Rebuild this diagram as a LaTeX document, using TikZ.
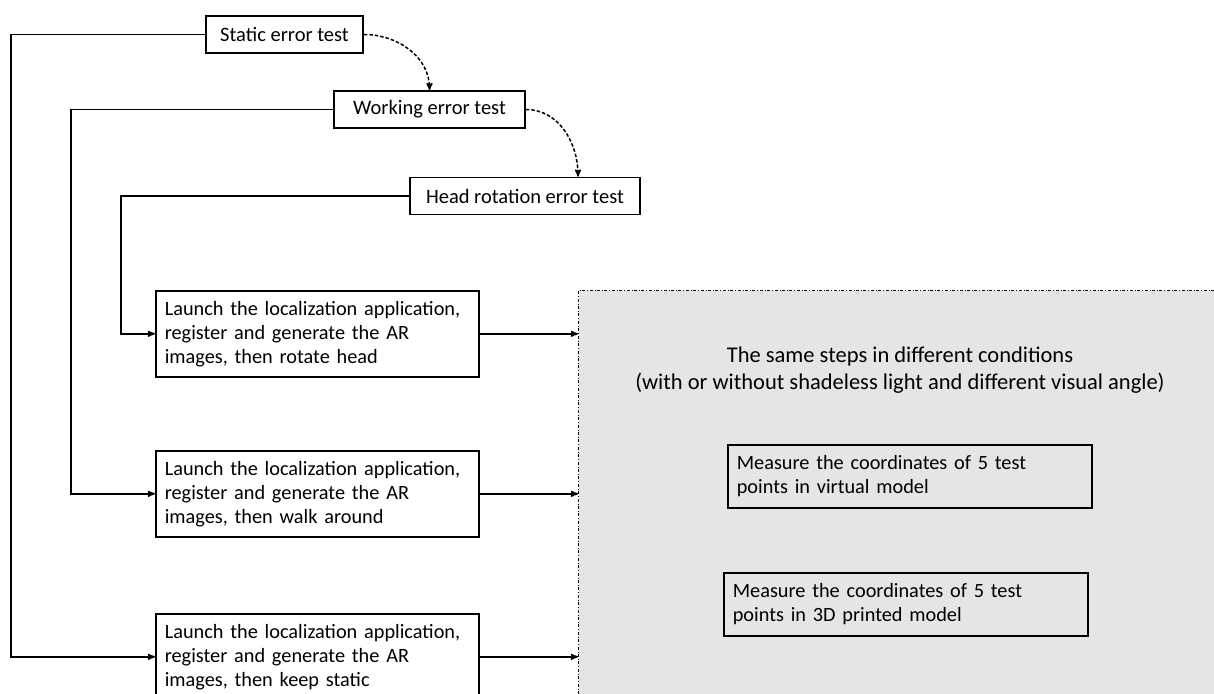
\documentclass[tikz,border=0pt]{standalone}
\usepackage{fontspec}
\setmainfont{Carlito}
\usetikzlibrary{arrows}
\usetikzlibrary{calc,positioning}

\begin{document}
\begin{tikzpicture}[x=1pt,y=-1pt,>=stealth',
  test/.style={draw,line width=1.6pt,minimum height=37pt,font=\fontsize{20.5}{24}\selectfont},
  launch/.style={draw,line width=1.6pt,anchor=north west,minimum width=323pt,
    minimum height=86pt,text width=305pt,align=left,inner xsep=9pt,
    font=\fontsize{20.3}{24}\selectfont},
  measure/.style={draw,line width=1.6pt,anchor=north west,minimum width=364pt,
    minimum height=63pt,text width=346pt,align=left,inner xsep=9pt,
    font=\fontsize{20.3}{24}\selectfont},
  region/.style={draw,dash dot,line width=1pt,fill=gray!20,anchor=north west,
    minimum width=680pt,minimum height=430pt},
  link/.style={->,line width=1.5pt},
  next/.style={->,line width=1.5pt,dash pattern=on 3.5pt off 2pt}]
  \useasboundingbox (0,0) rectangle (1214,693);

\node[region] (cond) at (578,290) {};

\node[test,minimum width=157pt] (static) at (284.5,34.5) {Static error test};
\node[test,minimum width=191pt] (working) at (429.5,109.5) {Working error test};
\node[test,minimum width=230pt] (head) at (525,196) {Head rotation error test};

\node[launch] (rotate) at (155,290) {Launch the localization application,\\register and generate the AR\\images, then rotate head};
\node[launch] (walk) at (155,450) {Launch the localization application,\\register and generate the AR\\images, then walk around};
\node[launch] (keep) at (155,613) {Launch the localization application,\\register and generate the AR\\images, then keep static};

\node[align=center,font=\fontsize{22.5}{27}\selectfont] (same) at (900,370)
  {The same steps in different conditions\\(with or without shadeless light and different visual angle)};
\node[measure] (virtual) at (727,444) {Measure the coordinates of 5 test\\points in virtual model};
\node[measure] (printed) at (723,572) {Measure the coordinates of 5 test\\points in 3D printed model};

% test order
\draw[next] (static.east) to[out=0,in=90] (working.north);
\draw[next] (working.east) to[out=0,in=90] ([xshift=53pt]head.north);

% each test to its steps
\draw[link] (static.west) -- ++(-194,0) |- (keep.west);
\draw[link] (working.west) -- ++(-262,0) |- (walk.west);
\draw[link] (head.west) -- ++(-288,0) |- (rotate.west);

\draw[link] (rotate.east) -- (rotate.east -| cond.west);
\draw[link] (walk.east) -- (walk.east -| cond.west);
\draw[link] (keep.east) -- (keep.east -| cond.west);

\end{tikzpicture}
\end{document}
